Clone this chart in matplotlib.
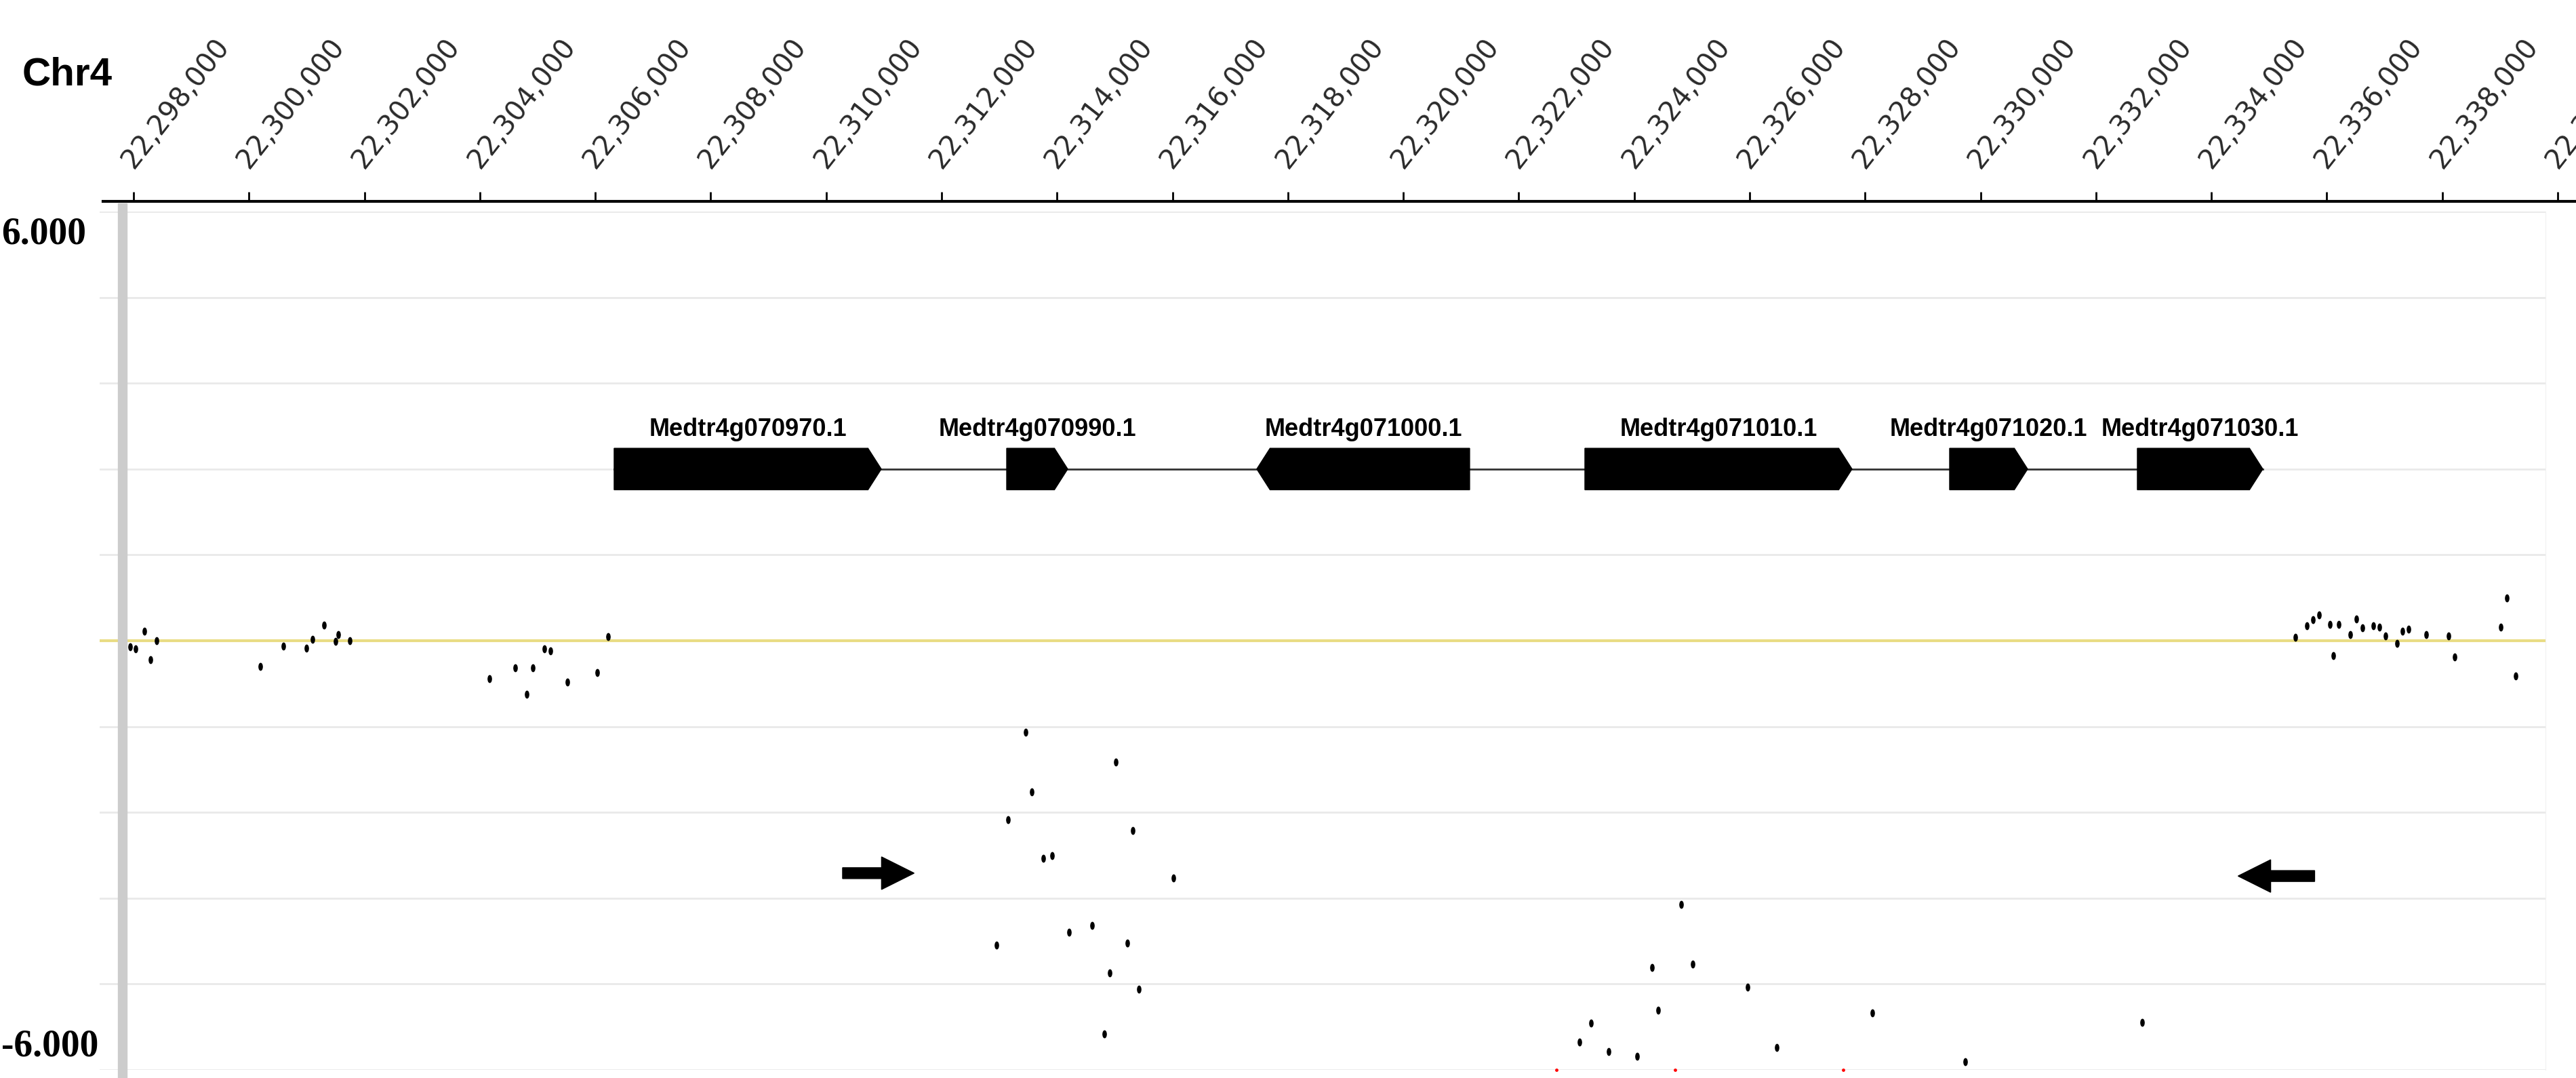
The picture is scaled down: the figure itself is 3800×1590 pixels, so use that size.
import numpy as np
import matplotlib
matplotlib.use('Agg')
import matplotlib.pyplot as plt
from matplotlib import font_manager, transforms
from matplotlib.patches import Polygon, Rectangle
from matplotlib.path import Path

# --- data ---------------------------------------------------------------
chrom = 'Chr4'
view_start, view_end = 22_297_413, 22_339_789
ruler_ticks = list(range(22_298_000, 22_340_001, 2000))
y_range = (-6.0, 6.0)

gene_names = ['Medtr4g070970.1', 'Medtr4g070990.1', 'Medtr4g071000.1',
              'Medtr4g071010.1', 'Medtr4g071020.1', 'Medtr4g071030.1']
gene_starts = [22306327, 22313128, 22317461, 22323146, 22329465, 22332718]
gene_ends = [22310955, 22314185, 22321149, 22327774, 22330816, 22334891]
gene_strands = ['+', '+', '-', '+', '+', '+']

snp_pos = [22297939, 22298035, 22298188, 22298294, 22298399,
           22300196, 22300596, 22301001, 22301101, 22301300, 22301500, 22301553, 22301747,
           22304166, 22304613, 22304812, 22304918, 22305118, 22305223, 22305517, 22306034, 22306222,
           22312954, 22313156, 22313456, 22313560, 22313758, 22313911, 22314212, 22314612,
           22314814, 22314913, 22315013, 22315215, 22315318, 22315417, 22316019,
           22322653, 22323052, 22323254, 22323555, 22324054, 22324306, 22324410, 22324706,
           22324809, 22325011, 22325965, 22326467, 22327623, 22328126, 22329730, 22332800,
           22335455, 22335658, 22335760, 22335862, 22336057, 22336113, 22336210, 22336410,
           22336512, 22336614, 22336809, 22336911, 22337013, 22337213, 22337314, 22337416,
           22337718, 22338113, 22338218, 22339017, 22339119, 22339275]
snp_val = [-0.09, -0.11, 0.13, -0.27, 0.00,
           -0.36, -0.08, -0.10, 0.02, 0.22, -0.01, 0.09, 0.00,
           -0.53, -0.38, -0.75, -0.38, -0.11, -0.14, -0.58, -0.45, 0.06,
           -4.26, -2.50, -1.28, -2.11, -3.04, -3.00, -4.08, -3.98,
           -5.50, -4.64, -1.70, -4.23, -2.65, -4.87, -3.32,
           -6.40, -5.61, -5.35, -5.74, -5.81, -4.57, -5.17, -6.40,
           -3.69, -4.52, -4.84, -5.69, -6.40, -5.20, -5.89, -5.34,
           0.05, 0.21, 0.29, 0.36, 0.23, -0.21, 0.23, 0.09,
           0.30, 0.18, 0.21, 0.19, 0.07, -0.04, 0.13, 0.16,
           0.09, 0.07, -0.23, 0.19, 0.60, -0.49]

arrow_tails = [22310285, 22335789]
arrow_tips = [22311524, 22334463]
arrow_y = [-3.25, -3.29]

# --- fonts --------------------------------------------------------------
installed = {f.name for f in font_manager.fontManager.ttflist}
if 'Liberation Sans Narrow' in installed:
    gene_font, gene_size = 'Liberation Sans Narrow', 30
else:
    gene_font, gene_size = 'Liberation Sans', 26

W, H = 3800, 1590
fig = plt.figure(figsize=(W / 100, H / 100), dpi=100)

# data panel
ax_l, ax_r_px, ax_top, ax_bot = 147, 3755, 312, 1578
ax = fig.add_axes([ax_l / W, (H - ax_bot) / H, (ax_r_px - ax_l) / W, (ax_bot - ax_top) / H])
ax.set_xlim(view_start, view_end)
ax.set_ylim(*y_range)
ax.set_yticks(np.linspace(y_range[0], y_range[1], 11))
ax.set_xticks([])
ax.tick_params(axis='y', length=0, labelleft=False)
ax.grid(axis='y', color='#e9e9e9', lw=2)
ax.set_axisbelow(True)
for s in ['top', 'bottom', 'left']:
    ax.spines[s].set_visible(False)
ax.spines['right'].set_color('#f0f0f0')
ax.axhline(0, color='#e9dc84', lw=3, zorder=1)

# genes
yc, half_h = 2.4, 0.29
tip = 230
ax.plot([min(gene_starts), max(gene_ends)], [yc, yc], color='#333333', lw=2, zorder=2)
for name, s, e, strand in zip(gene_names, gene_starts, gene_ends, gene_strands):
    if strand == '+':
        xs = [s, e - tip, e, e - tip, s]
        ys = [yc - half_h, yc - half_h, yc, yc + half_h, yc + half_h]
    else:
        xs = [s, s + tip, e, e, s + tip]
        ys = [yc, yc - half_h, yc - half_h, yc + half_h, yc + half_h]
    ax.add_patch(Polygon(np.column_stack([xs, ys]), closed=True, color='black', zorder=3))
    ax.text((s + e) / 2, yc + half_h + 0.17, name, ha='center', va='baseline',
            fontsize=gene_size, family=gene_font, weight='bold', zorder=5)

# scores
pos = np.array(snp_pos)
val = np.array(snp_val)
inside = val >= y_range[0]
ell = Path.unit_circle().transformed(transforms.Affine2D().scale(0.5, 1.0))
ax.plot(pos[inside], val[inside], ls='none', marker=ell, ms=7.5, color='black', zorder=4)
ax.plot(pos[~inside], np.clip(val[~inside], y_range[0], None), ls='none', marker='o',
        ms=3.5, color='red', mec='none', zorder=4, clip_on=False)

# annotation arrows
for t0, t1, y in zip(arrow_tails, arrow_tips, arrow_y):
    ax.arrow(t0, y, t1 - t0, 0, width=0.152, head_width=0.455, head_length=564,
             length_includes_head=True, color='black', zorder=5)

# data range labels
blend = transforms.blended_transform_factory(fig.transFigure, ax.transData)
ax.text(2 / W, y_range[1] - 0.32, '6.000', transform=blend, ha='left', va='center',
        fontsize=40, family='Liberation Serif', weight='bold')
ax.text(2 / W, y_range[0] + 0.33, '-6.000', transform=blend, ha='left', va='center',
        fontsize=40, family='Liberation Serif', weight='bold')

# ruler
bp_per_px = (view_end - view_start) / (ax_r_px - ax_l)
rul_l, rul_r, rul_y = 152, 3800, 297
ax_r = fig.add_axes([rul_l / W, (H - rul_y) / H, (rul_r - rul_l) / W, 0.0001])
ax_r.set_xlim(view_start + (rul_l - ax_l) * bp_per_px, view_start + (rul_r - ax_l) * bp_per_px)
ax_r.patch.set_visible(False)
for s in ['bottom', 'left', 'right']:
    ax_r.spines[s].set_visible(False)
ax_r.spines['top'].set_linewidth(3)
ax_r.set_yticks([])
ax_r.xaxis.set_ticks_position('top')
ax_r.tick_params(axis='x', direction='out', length=10, width=2, pad=24,
                 labeltop=True, labelbottom=False)
ax_r.set_xticks(ruler_ticks)
ax_r.set_xticklabels([f'{t:,}' for t in ruler_ticks], rotation=52, ha='left', va='baseline',
                     rotation_mode='anchor', fontsize=29, color='#2a2a2a', family='DejaVu Sans')

fig.text(33 / W, 1 - 110 / H, chrom, ha='left', va='center', fontsize=42,
         family='Liberation Sans', weight='bold')

# left track divider
fig.add_artist(Rectangle((174 / W, 0), 13 / W, (H - 300) / H, transform=fig.transFigure,
                         color='#cccccc', zorder=3))

fig.savefig('out.png', dpi=100)
